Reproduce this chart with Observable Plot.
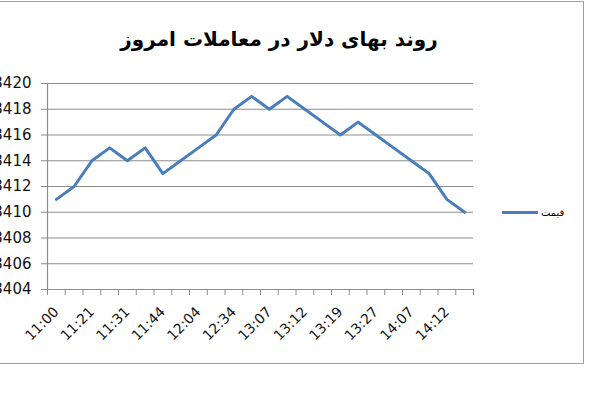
<!DOCTYPE html>
<html>
<head>
<meta charset="utf-8">
<script src="https://cdn.jsdelivr.net/npm/d3@7"></script>
<script src="https://cdn.jsdelivr.net/npm/@observablehq/plot@0.6"></script>
<style>
  html, body { margin: 0; padding: 0; background: #fff; overflow: hidden; }
  #wrap { position: relative; width: 600px; height: 400px; }
  #frame { position: absolute; left: -10px; top: 1px; width: 594px; height: 363px; border: 1.5px solid #a0a0a0; box-sizing: border-box; }
  #title { position: absolute; left: 0; width: 558px; top: 27px; text-align: center; font-family: "DejaVu Sans", sans-serif; font-weight: bold; font-size: 20px; color: #000; direction: rtl; }
  #legend { position: absolute; left: 502px; top: 207px; display: flex; align-items: center; font-family: "DejaVu Sans", sans-serif; font-size: 10px; }
  #legend .sw { width: 36px; height: 3px; background: #4a7ebb; margin-right: 3px; }
  #chart { position: absolute; left: 0; top: 0; }
</style>
</head>
<body>
<div id="wrap">
  <div id="frame"></div>
  <div id="chart"></div>
  <div id="title">روند بهای دلار در معاملات امروز</div>
  <div id="legend"><div class="sw"></div><span>قیمت</span></div>
</div>
<script>
const seriesName = "قیمت";
const prices = [3411, 3412, 3414, 3415, 3414, 3415, 3413, 3414, 3415, 3416, 3418, 3419,
                3418, 3419, 3418, 3417, 3416, 3417, 3416, 3415, 3414, 3413, 3411, 3410];
const timeLabels = ["11:00", "11:21", "11:31", "11:44", "12:04", "12:34",
                    "13:07", "13:12", "13:19", "13:27", "14:07", "14:12"];
const yTicks = [3404, 3406, 3408, 3410, 3412, 3414, 3416, 3418, 3420];

const n = prices.length;
const data = prices.map((v, i) => ({i: i + 0.5, v}));
const boundaries = d3.range(0, n + 1);
const labelPos = timeLabels.map((_, k) => 2 * k + 0.5);

const chart = Plot.plot({
  width: 600,
  height: 400,
  marginLeft: 47,
  marginRight: 127,
  marginTop: 83,
  marginBottom: 111,
  x: {type: "linear", domain: [0, n]},
  y: {domain: [3404, 3420]},
  style: {fontFamily: "'DejaVu Sans', sans-serif", background: "transparent", overflow: "visible"},
  marks: [
    Plot.ruleY(yTicks.slice(1), {x1: 0, x2: n, stroke: "#8c8c8c", strokeWidth: 1.2, strokeOpacity: 1}),
    Plot.ruleX([0], {y1: 3404, y2: 3420, stroke: "#8c8c8c", strokeWidth: 1.2}),
    Plot.ruleY([3404], {x1: 0, x2: n, stroke: "#8c8c8c", strokeWidth: 1.2}),
    Plot.axisY({ticks: yTicks, tickSize: 6, tickPadding: 10, fontSize: 15, stroke: "#8c8c8c", fill: "#111", label: null, tickFormat: d => String(d)}),
    Plot.axisX({ticks: boundaries, tickSize: 6, tickFormat: () => "", stroke: "#8c8c8c", label: null}),
    Plot.axisX({ticks: labelPos, tickSize: 0, tickPadding: 20, tickRotate: -45, fontSize: 14, fill: "#111",
                tickFormat: d => timeLabels[Math.round((d - 0.5) / 2)], label: null}),
    Plot.line(data, {x: "i", y: "v", stroke: "#4a7ebb", strokeWidth: 3, strokeLinejoin: "round", curve: "linear"})
  ]
});
document.getElementById("chart").appendChild(chart);
</script>
</body>
</html>
